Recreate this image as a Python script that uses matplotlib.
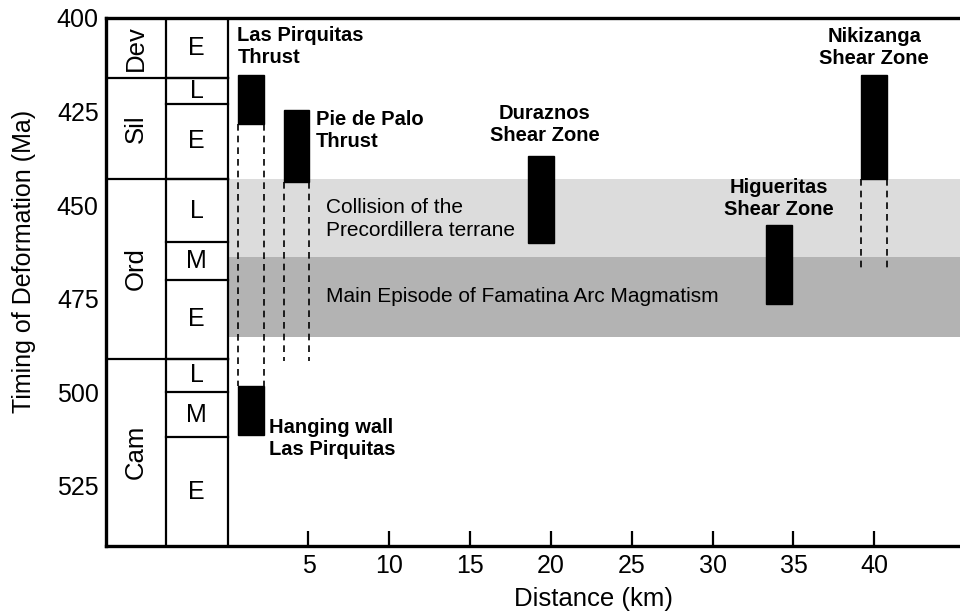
import matplotlib.pyplot as plt
from matplotlib.patches import Rectangle

plt.rcParams['font.family'] = ['Liberation Sans', 'DejaVu Sans']

# geological time scale (Ma)
periods = ['Dev', 'Sil', 'Ord', 'Cam']
period_top = [400, 416, 443, 491]
period_base = [416, 443, 491, 541]

stages = ['E', 'L', 'E', 'L', 'M', 'E', 'L', 'M', 'E']
stage_top = [400, 416, 423, 443, 460, 470, 491, 500, 512]
stage_base = [416, 423, 443, 460, 470, 491, 500, 512, 541]

# deformation events: distance range (km) and age range (Ma)
events = ['Las Pirquitas\nThrust', 'Pie de Palo\nThrust', 'Duraznos\nShear Zone',
          'Higueritas\nShear Zone', 'Nikizanga\nShear Zone', 'Hanging wall\nLas Pirquitas']
ev_x0 = [0.65, 3.5, 18.6, 33.3, 39.2, 0.65]
ev_x1 = [2.25, 5.05, 20.2, 34.9, 40.8, 2.25]
ev_top = [415.3, 424.6, 436.8, 455.4, 415.3, 498.4]
ev_base = [428.4, 443.9, 460.1, 476.3, 443.0, 511.5]

# dashed extensions (x, from age, to age)
dash_x = [0.65, 2.25, 3.5, 5.05, 39.2, 40.8]
dash_y0 = [428.4, 428.4, 443.9, 443.9, 443.0, 443.0]
dash_y1 = [498.4, 498.4, 491.6, 491.6, 466.8, 466.8]

# shaded episodes
bands = ['Collision of the\nPrecordillera terrane', 'Main Episode of Famatina Arc Magmatism']
band_top = [443, 464]
band_base = [464, 485.3]
band_color = ['#dcdcdc', '#b3b3b3']

x_left, x_mid, x_right = -7.55, -3.83, 45.3

fig = plt.figure(figsize=(9.6, 6.12), dpi=100)
ax = fig.add_axes([0.110, 0.108, 0.890, 0.863])
ax.set_xlim(x_left, x_right)
ax.set_ylim(541, 400)

# bands
for t, b, c in zip(band_top, band_base, band_color):
    ax.add_patch(Rectangle((0, t), x_right, b - t, facecolor=c, edgecolor='none', zorder=0))
ax.text(6.1, 453.8, bands[0], fontsize=15, va='center', ha='left', linespacing=1.25)
ax.text(6.1, 474.5, bands[1], fontsize=15, va='center', ha='left')

# stratigraphic columns
ax.plot([x_mid, x_mid], [400, 541], color='black', lw=1.6, zorder=3)
ax.plot([0, 0], [400, 541], color='black', lw=1.6, zorder=3)
for name, t, b in zip(periods, period_top, period_base):
    if t > 400:
        ax.plot([x_left, 0], [t, t], color='black', lw=1.6, zorder=3)
    ax.text((x_left + x_mid) / 2, (t + b) / 2, name, rotation=90, fontsize=18.5,
            ha='center', va='center')
for name, t, b in zip(stages, stage_top, stage_base):
    if t > 400:
        ax.plot([x_mid, 0], [t, t], color='black', lw=1.6, zorder=3)
    ax.text(x_mid / 2, (t + b) / 2, name, fontsize=18, ha='center', va='center')

# dashed lines
for x, y0, y1 in zip(dash_x, dash_y0, dash_y1):
    ax.plot([x, x], [y0, y1], color='black', lw=1.2, ls=(0, (4, 3)), zorder=2)

# event bars
for x0, x1, t, b in zip(ev_x0, ev_x1, ev_top, ev_base):
    ax.add_patch(Rectangle((x0, t), x1 - x0, b - t, facecolor='black', edgecolor='black', zorder=4))

lab_x = [0.6, 5.45, 19.6, 34.1, 40.0, 2.55]
lab_y = [407.6, 430.2, 428.4, 448.3, 407.9, 512.4]
lab_ha = ['left', 'left', 'center', 'center', 'center', 'left']
for name, x, y, ha in zip(events, lab_x, lab_y, lab_ha):
    ax.text(x, y, name, fontsize=14.5, fontweight='bold', ha=ha, va='center', linespacing=1.2)

# axes styling
for side in ['left', 'bottom', 'top']:
    ax.spines[side].set_linewidth(2.4)
ax.spines['right'].set_visible(False)
ax.set_xticks([5, 10, 15, 20, 25, 30, 35, 40])
ax.set_yticks([400, 425, 450, 475, 500, 525])
ax.tick_params(axis='x', direction='in', length=11, width=1.6, labelsize=18, pad=6)
ax.tick_params(axis='y', length=0, labelsize=18, pad=5)
ax.set_xlabel('Distance (km)', fontsize=18.5, va='center')
ax.xaxis.set_label_coords(0.571, -0.1)
ax.set_ylabel('Timing of Deformation (Ma)', fontsize=18, va='center')
ax.yaxis.set_label_coords(-0.096, 0.538)

fig.savefig('out.png', dpi=100)
